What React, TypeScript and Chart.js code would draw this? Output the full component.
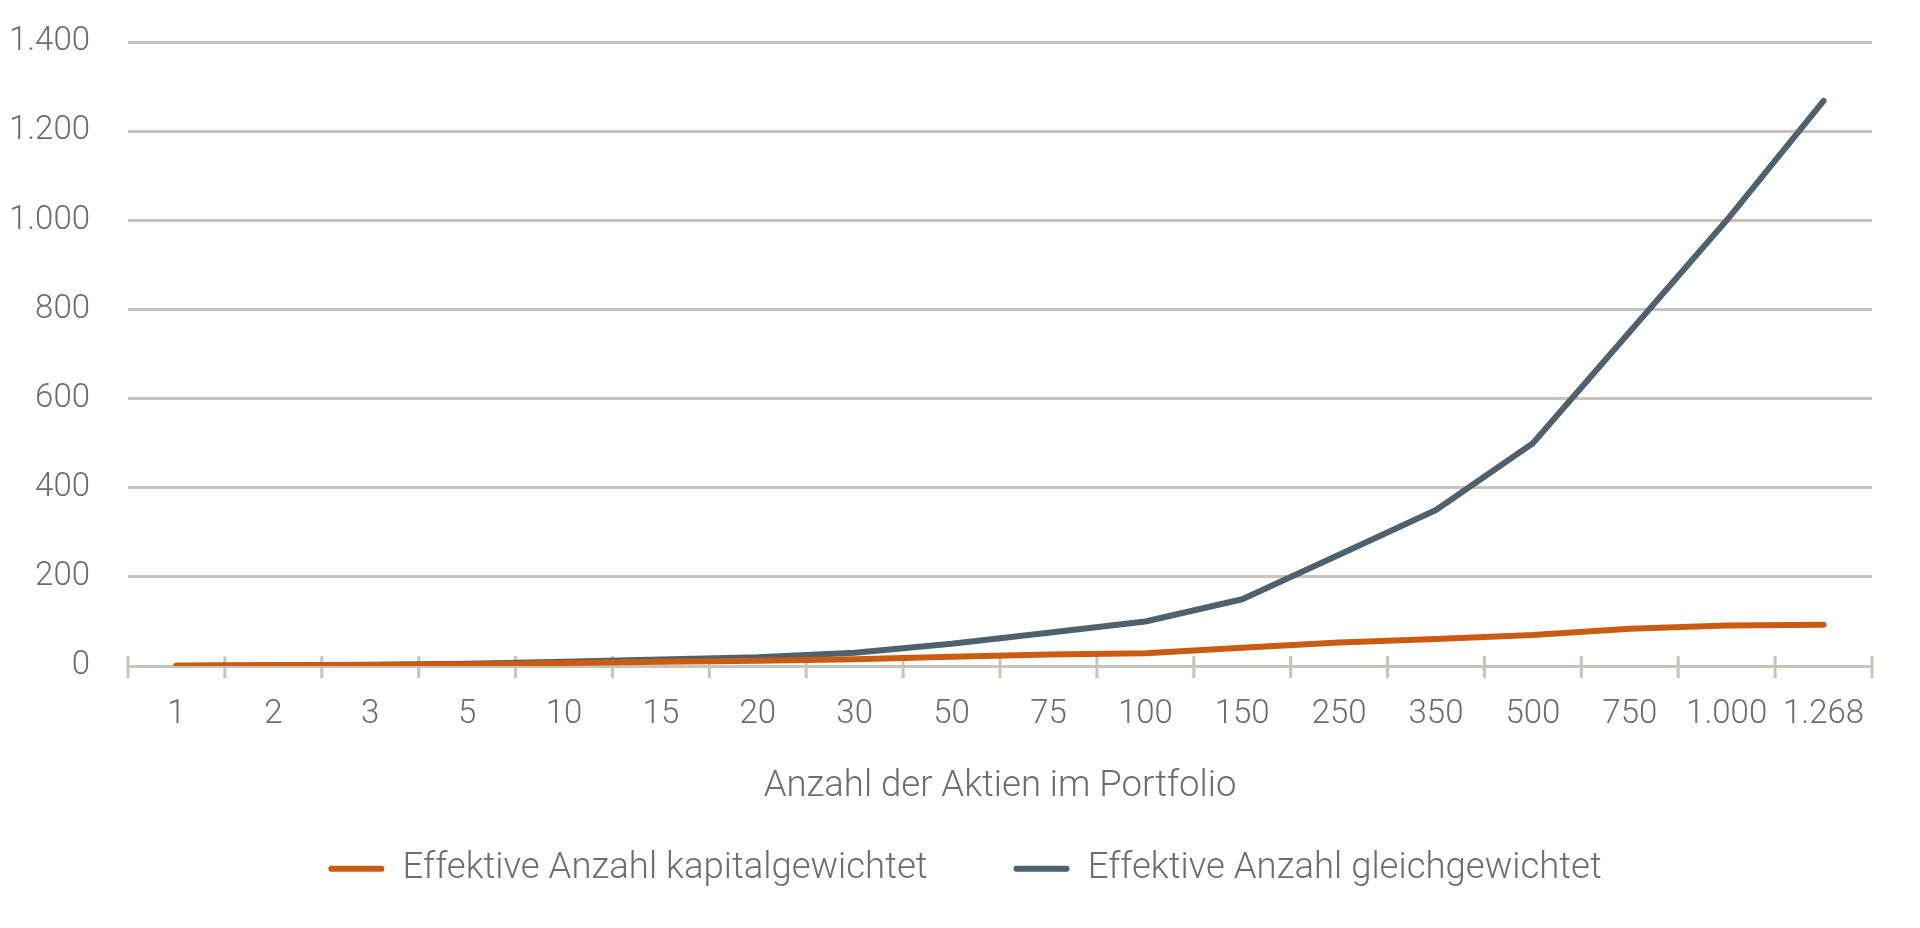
import React, { useEffect, useRef } from 'react';
import { Chart, registerables, Plugin } from 'chart.js';

Chart.register(...registerables);

// Anzahl der Aktien im Portfolio (Kategorien)
const categories = ['1', '2', '3', '5', '10', '15', '20', '30', '50', '75', '100', '150', '250', '350', '500', '750', '1.000', '1.268'];

// Effektive Anzahl kapitalgewichtet
const kapitalgewichtet = [1, 1.9, 2.7, 4.2, 7, 9.5, 12, 15.5, 21, 26, 29, 41, 53, 61, 70, 84, 91, 93];

// Effektive Anzahl gleichgewichtet
const gleichgewichtet = [1, 2, 3, 5, 10, 15, 20, 30, 50, 75, 100, 150, 250, 350, 500, 750, 1000, 1268];

const ORANGE = '#c95b12';
const SLATE = '#4e616c';
const GRID = '#c9c4bb';
const TEXT = '#6d6d6d';
const FONT = 'Roboto, "Noto Sans", sans-serif';

const fmt = (v: number | string) => String(v).replace(/\B(?=(\d{3})+(?!\d))/g, '.');

// Kleine Striche an den Kategoriegrenzen, die über und unter der Achse stehen
const tickMarks: Plugin = {
  id: 'tickMarks',
  beforeDatasetsDraw(chart) {
    const x = chart.scales.x;
    const { ctx } = chart;
    const n = categories.length;
    const y = chart.chartArea.bottom;
    ctx.save();
    ctx.strokeStyle = GRID;
    ctx.lineWidth = 3;
    for (let i = 0; i <= n; i++) {
      let px: number;
      if (i === 0) px = x.left;
      else if (i === n) px = x.right;
      else px = (x.getPixelForValue(i - 1) + x.getPixelForValue(i)) / 2;
      ctx.beginPath();
      ctx.moveTo(px, y - 10);
      ctx.lineTo(px, y + 12);
      ctx.stroke();
    }
    ctx.restore();
  },
};

// Legende etwas nach rechts schieben (Mitte wie im Original)
const legendShift: Plugin = {
  id: 'legendShift',
  afterLayout(chart) {
    if (chart.legend) chart.legend.left += 58;
  },
};

const App: React.FC = () => {
  const canvasRef = useRef<HTMLCanvasElement>(null);
  const chartRef = useRef<Chart | null>(null);

  useEffect(() => {
    if (!canvasRef.current) return;
    if (chartRef.current) chartRef.current.destroy();

    chartRef.current = new Chart(canvasRef.current, {
      type: 'line',
      data: {
        labels: categories,
        datasets: [
          {
            label: 'Effektive Anzahl kapitalgewichtet',
            data: kapitalgewichtet,
            borderColor: ORANGE,
            backgroundColor: ORANGE,
            borderWidth: 6,
            pointRadius: 0,
            tension: 0,
            fill: false,
            borderCapStyle: 'round',
            borderJoinStyle: 'round',
          },
          {
            label: 'Effektive Anzahl gleichgewichtet',
            data: gleichgewichtet,
            borderColor: SLATE,
            backgroundColor: SLATE,
            borderWidth: 6,
            pointRadius: 0,
            tension: 0,
            fill: false,
            borderCapStyle: 'round',
            borderJoinStyle: 'round',
          },
        ],
      },
      options: {
        animation: false,
        responsive: true,
        maintainAspectRatio: false,
        layout: { padding: { top: 42, left: 0, right: 48, bottom: 31 } },
        plugins: {
          tooltip: { enabled: false },
          legend: {
            position: 'bottom',
            labels: {
              color: TEXT,
              font: { family: FONT, size: 36.5, weight: 300 },
              boxWidth: 56,
              boxHeight: 6,
              useBorderRadius: true,
              borderRadius: 3,
              padding: 86,
              generateLabels(chart) {
                const items = Chart.defaults.plugins.legend.labels.generateLabels(chart);
                return items.map((it) => ({ ...it, lineWidth: 0 }));
              },
            },
          },
        },
        scales: {
          x: {
            offset: true,
            grid: { display: false, drawTicks: false },
            border: { display: true, color: GRID, width: 3 },
            ticks: {
              color: TEXT,
              font: { family: FONT, size: 33, weight: 300 },
              padding: 29,
              maxRotation: 0,
              autoSkip: false,
            },
            title: {
              display: true,
              text: 'Anzahl der Aktien im Portfolio',
              color: TEXT,
              font: { family: FONT, size: 36.5, weight: 300 },
              padding: { top: 1, bottom: -44 },
            },
          },
          y: {
            min: 0,
            max: 1400,
            grid: { color: GRID, lineWidth: 3, drawTicks: false },
            border: { display: false },
            afterFit(scale) {
              scale.width = 128;
              scale.paddingTop = 0;
              scale.paddingBottom = 0;
            },
            ticks: {
              stepSize: 200,
              color: TEXT,
              font: { family: FONT, size: 33, weight: 300 },
              padding: 38,
              callback: (v) => fmt(v),
            },
          },
        },
      },
      plugins: [tickMarks, legendShift],
    });

    return () => {
      if (chartRef.current) {
        chartRef.current.destroy();
        chartRef.current = null;
      }
    };
  }, []);

  return (
    <div style={{ position: 'fixed', left: 0, top: 0, width: 1920, height: 928, background: '#fff' }}>
      <canvas ref={canvasRef}></canvas>
    </div>
  );
};

export default App;
